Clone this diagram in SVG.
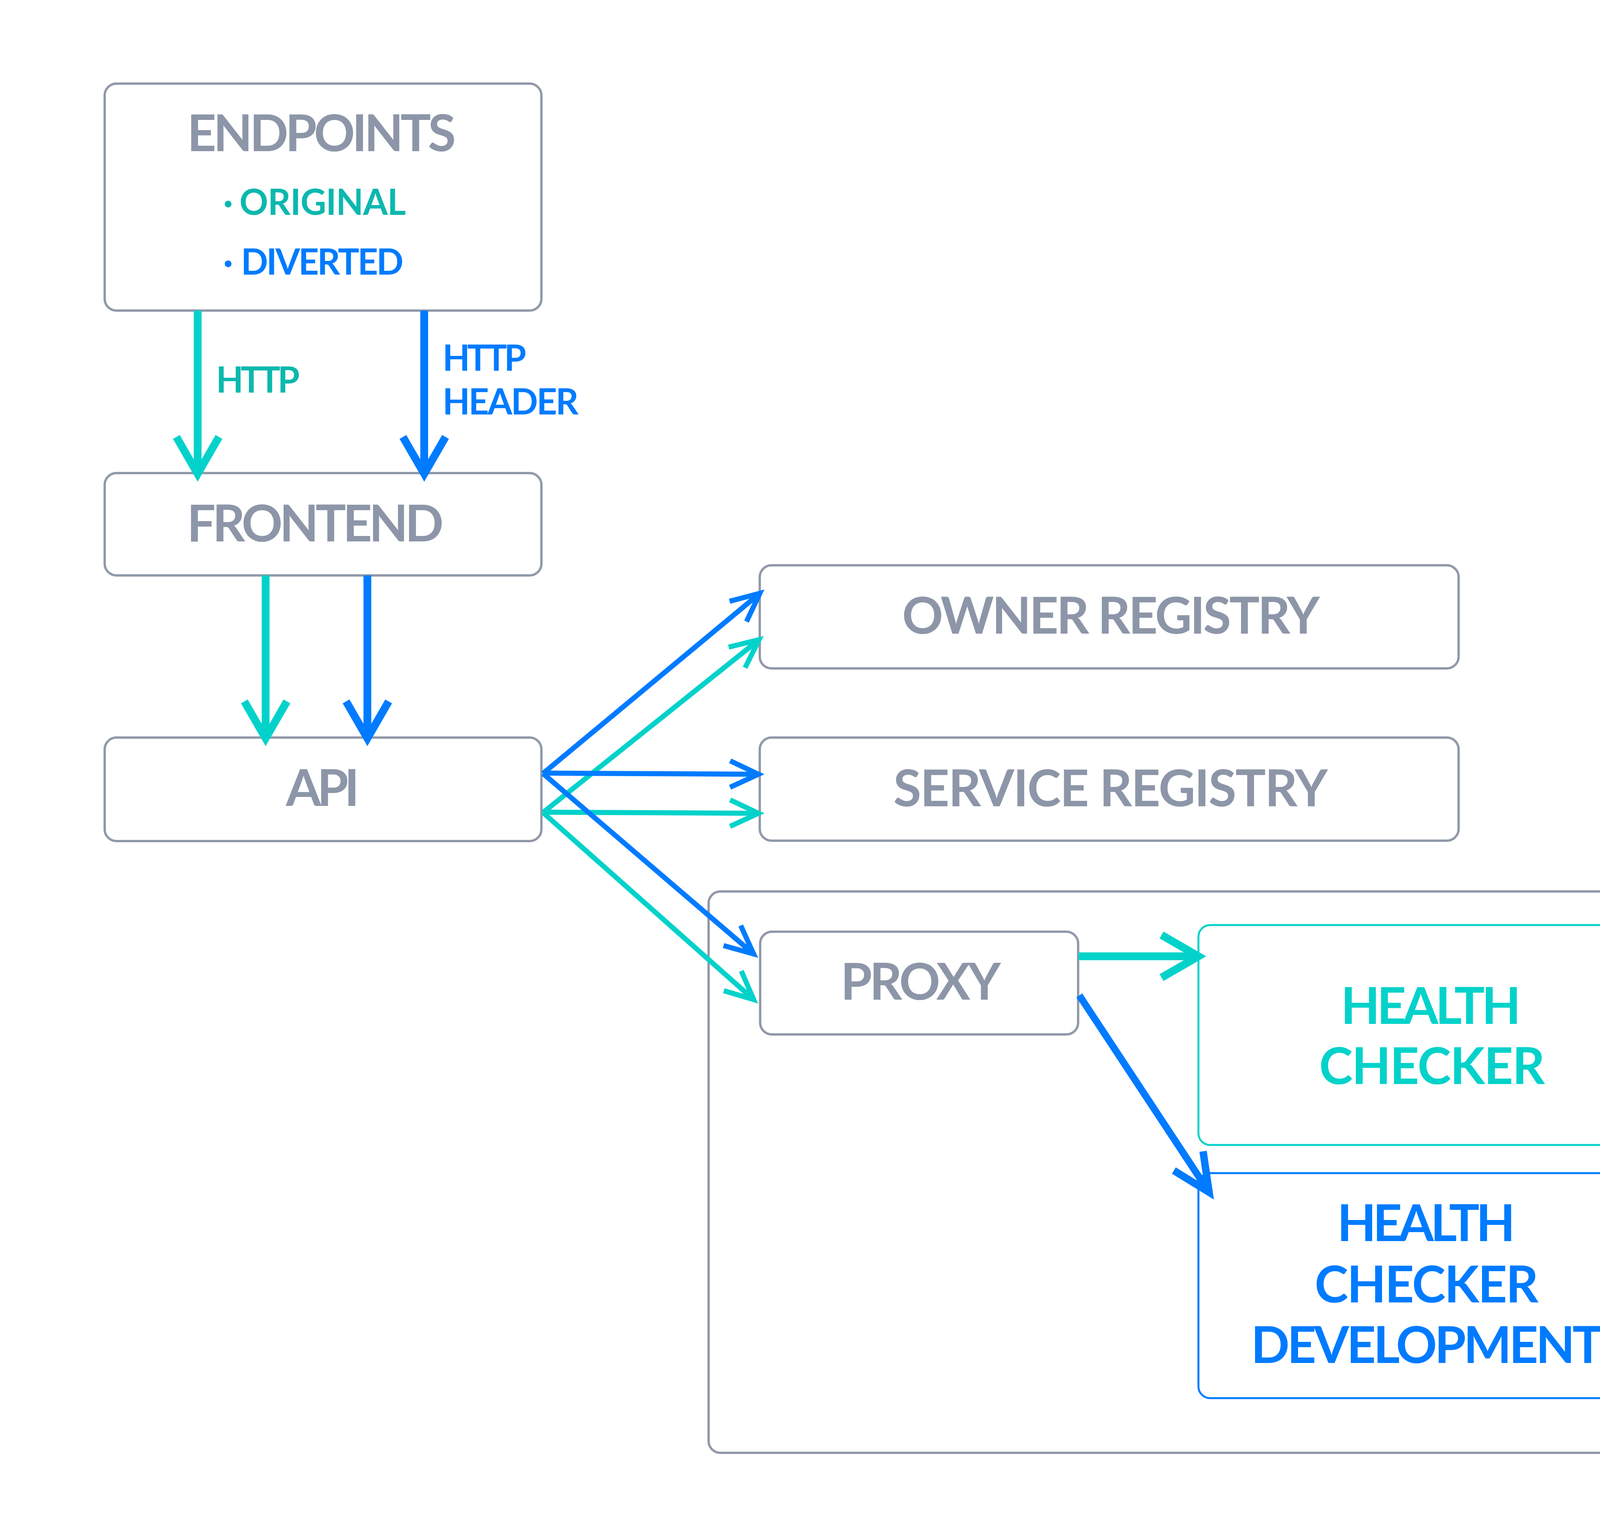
<svg xmlns="http://www.w3.org/2000/svg" width="4618" height="3914" viewBox="0 0 4618 3914">
<style>
.box{fill:#FFFFFF;stroke:#9199A9;stroke-width:6}
.cont{fill:none;stroke:#9199A9;stroke-width:6}
.lbl{font-family:Lato,"Open Sans","Liberation Sans",sans-serif;font-weight:700;font-size:130px;fill:#8D96A8;text-anchor:middle}
.big{font-family:Lato,"Open Sans","Liberation Sans",sans-serif;font-weight:700;font-size:130px;text-anchor:middle}
.sm{font-family:Lato,"Open Sans","Liberation Sans",sans-serif;font-weight:700;font-size:91px}
.tealT{fill:#0BB8AE}
.blueT{fill:#007BFF}
.hcT{fill:#03D2CA}
.ln{fill:none;stroke-linecap:butt}
.thin{stroke-width:13}
.thick{stroke-width:20}
.tl{stroke:#03D2CA}
.bl{stroke:#007BFF}
</style>
<defs>
<marker id="mThinB" markerUnits="userSpaceOnUse" orient="auto" overflow="visible" markerWidth="1" markerHeight="1" refX="0" refY="0"><path d="M-72.5,-33.8 L0,0 L-72.5,33.8" fill="none" stroke="#007BFF" stroke-width="13" stroke-linejoin="miter"/></marker>
<marker id="mThinT" markerUnits="userSpaceOnUse" orient="auto" overflow="visible" markerWidth="1" markerHeight="1" refX="0" refY="0"><path d="M-72.5,-33.8 L0,0 L-72.5,33.8" fill="none" stroke="#03D2CA" stroke-width="13" stroke-linejoin="miter"/></marker>
<marker id="mThickB" markerUnits="userSpaceOnUse" orient="auto" overflow="visible" markerWidth="1" markerHeight="1" refX="0" refY="0"><path d="M-94.4,-54.5 L0,0 L-94.4,54.5" fill="none" stroke="#007BFF" stroke-width="20" stroke-linejoin="miter"/></marker>
<marker id="mThickT" markerUnits="userSpaceOnUse" orient="auto" overflow="visible" markerWidth="1" markerHeight="1" refX="0" refY="0"><path d="M-94.4,-54.5 L0,0 L-94.4,54.5" fill="none" stroke="#03D2CA" stroke-width="20" stroke-linejoin="miter"/></marker>
<marker id="mProxyB" markerUnits="userSpaceOnUse" orient="auto" overflow="visible" markerWidth="1" markerHeight="1" refX="0" refY="0"><path d="M-96,-44.8 L0,0 L-96,44.8" fill="none" stroke="#007BFF" stroke-width="19" stroke-linejoin="miter"/></marker>
</defs>
<rect width="4618" height="3914" fill="#FFFFFF"/>

<g id="container">
<rect class="cont" x="1814" y="2282" width="2560" height="1437" rx="30"/>
</g>

<g id="endpoints">
<rect class="box" x="268" y="214" width="1118" height="581" rx="30"/>
<text class="lbl" x="823" y="387" textLength="688">ENDPOINTS</text>
<text class="sm tealT"><tspan x="584" y="550" text-anchor="middle">·</tspan><tspan x="613" y="550" textLength="426">ORIGINAL</tspan></text>
<text class="sm blueT"><tspan x="584" y="703" text-anchor="middle">·</tspan><tspan x="617" y="703" textLength="416">DIVERTED</tspan></text>
</g>

<g id="frontend">
<rect class="box" x="268" y="1211" width="1118" height="262" rx="30"/>
<text class="lbl" x="807" y="1386" textLength="657">FRONTEND</text>
</g>

<g id="api">
<rect class="box" x="268" y="1888" width="1118" height="265" rx="30"/>
<text class="lbl" x="826" y="2063" textLength="188">API</text>
</g>

<g id="owner-registry">
<rect class="box" x="1945" y="1447" width="1789" height="264" rx="30"/>
<text class="lbl" x="2844" y="1622" textLength="1069">OWNER REGISTRY</text>
</g>

<g id="service-registry">
<rect class="box" x="1945" y="1888" width="1789" height="264" rx="30"/>
<text class="lbl" x="2843" y="2064" textLength="1112">SERVICE REGISTRY</text>
</g>

<g id="proxy">
<rect class="box" x="1946" y="2385" width="814" height="263" rx="30"/>
<text class="lbl" x="2357" y="2559" textLength="410">PROXY</text>
</g>

<g id="health-checker">
<rect x="3068" y="2368" width="1191" height="563" rx="30" fill="#FFFFFF" stroke="#03D2CA" stroke-width="5"/>
<text class="big hcT" x="3663" y="2621" textLength="461">HEALTH</text>
<text class="big hcT" x="3666" y="2775" textLength="578">CHECKER</text>
</g>

<g id="health-checker-development">
<rect x="3068" y="3003" width="1191" height="576" rx="30" fill="#FFFFFF" stroke="#007BFF" stroke-width="5"/>
<text class="big blueT" x="3651" y="3177" textLength="456">HEALTH</text>
<text class="big blueT" x="3652" y="3334" textLength="573">CHECKER</text>
<text class="big blueT" x="3653" y="3489" textLength="901">DEVELOPMENT</text>
</g>

<g id="connectors">
<path class="ln thick tl" d="M506,795 L506,1213" marker-end="url(#mThickT)"/>
<path class="ln thick bl" d="M1086,795 L1086,1213" marker-end="url(#mThickB)"/>
<text class="sm tealT" x="553" y="1005" textLength="214">HTTP</text>
<text class="sm blueT" x="1133" y="949" textLength="214">HTTP</text>
<text class="sm blueT" x="1133" y="1061" textLength="348">HEADER</text>
<path class="ln thick tl" d="M680,1473 L680,1890" marker-end="url(#mThickT)"/>
<path class="ln thick bl" d="M940.5,1473 L940.5,1890" marker-end="url(#mThickB)"/>
<path class="ln thin bl" d="M1390,1980 L1945.2,1518.8" marker-end="url(#mThinB)"/>
<path class="ln thin tl" d="M1390,2080 L1943,1637.6" marker-end="url(#mThinT)"/>
<path class="ln thin bl" d="M1390,1979 L1941.6,1981.9" marker-end="url(#mThinB)"/>
<path class="ln thin tl" d="M1390,2079 L1941.6,2081.9" marker-end="url(#mThinT)"/>
<path class="ln thin bl" d="M1390,1980 L1929.3,2442" marker-end="url(#mThinB)"/>
<path class="ln thin tl" d="M1390,2080 L1929.5,2558.8" marker-end="url(#mThinT)"/>
<path class="ln thick tl" d="M2761,2448 L3068,2448" marker-end="url(#mThickT)"/>
<path class="ln bl" stroke-width="18" d="M2763,2548 L3095.3,3051.9" marker-end="url(#mProxyB)"/>
</g>
</svg>
